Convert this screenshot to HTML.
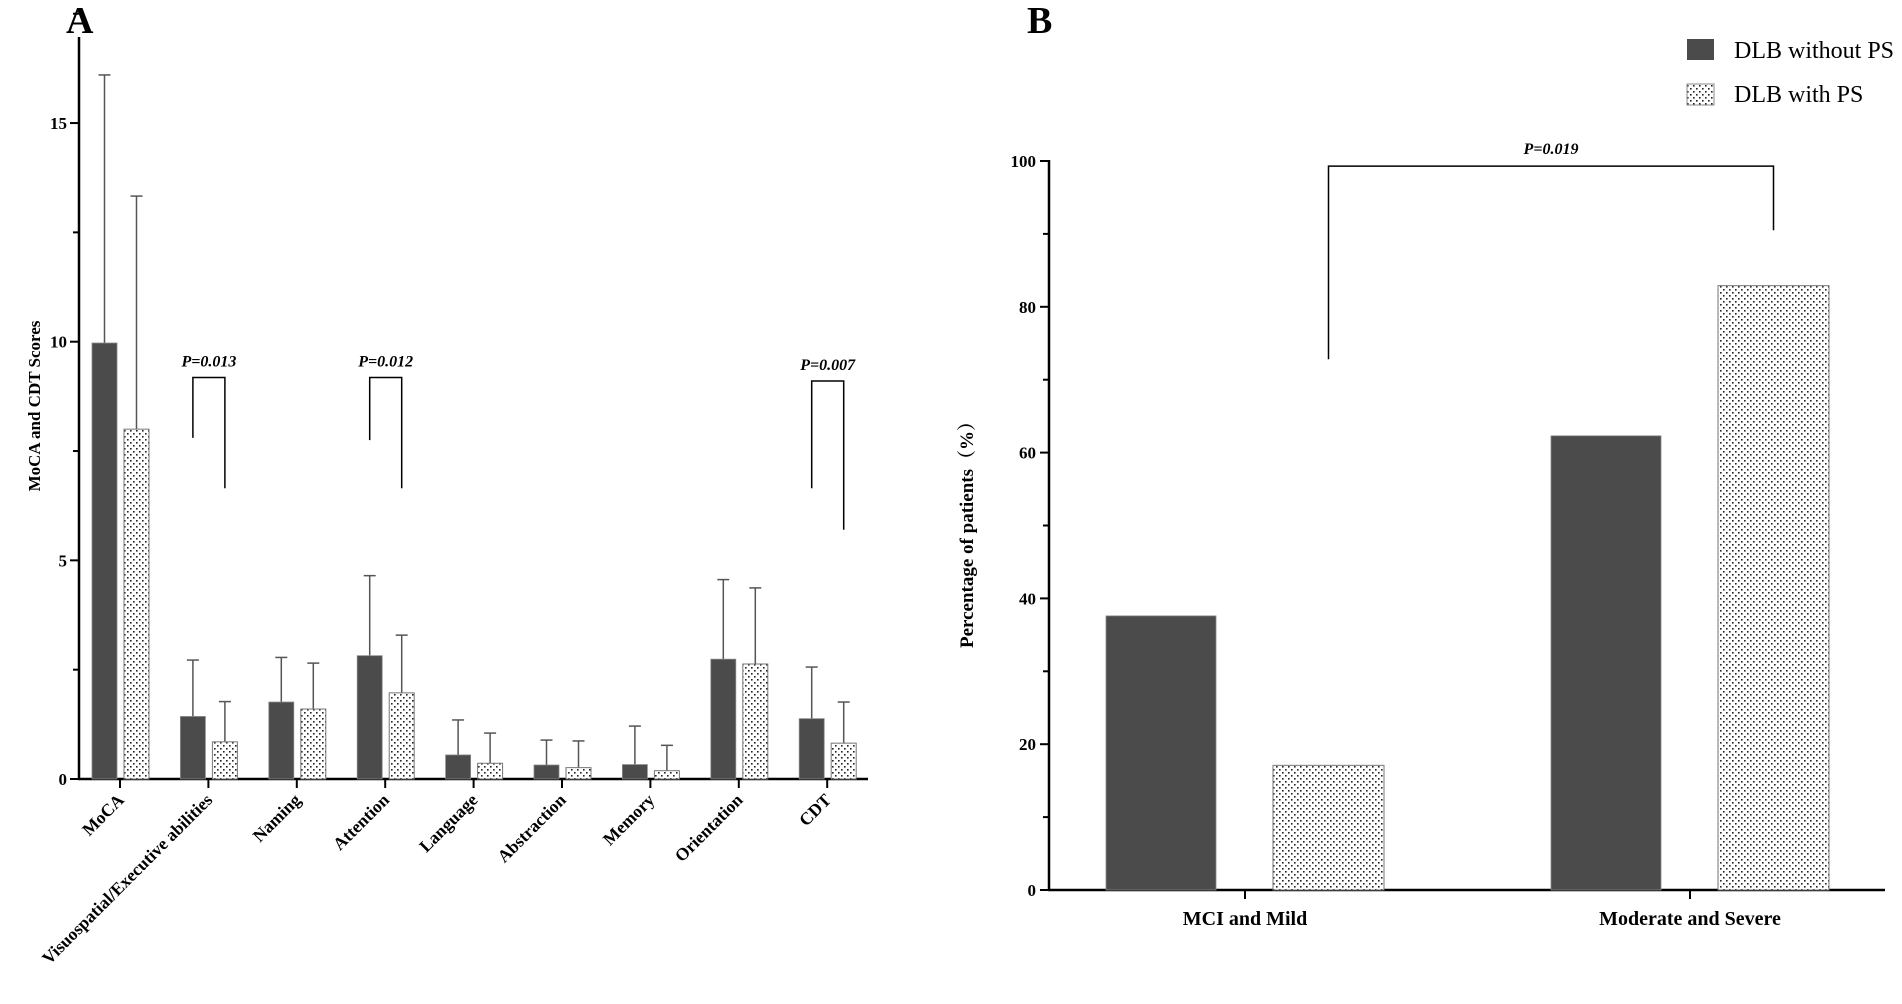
<!DOCTYPE html>
<html><head><meta charset="utf-8">
<style>
html,body{margin:0;padding:0;background:#fff;}
svg{display:block;font-family:"Liberation Serif",serif;}
</style></head>
<body>
<svg id="chart" width="1902" height="1004" viewBox="0 0 1902 1004" xmlns="http://www.w3.org/2000/svg">
<defs>
<pattern id="dots" patternUnits="userSpaceOnUse" width="6" height="6">
<rect width="6" height="6" fill="#fff"/>
<rect x="1" y="1" width="1.6" height="1.6" fill="#222"/>
<rect x="4" y="4" width="1.6" height="1.6" fill="#222"/>
</pattern>
</defs>
<g id="panelA"></g>
<g id="panelB"></g>
</svg>
<script>
// Panel A data
const catsA = ["MoCA","Visuospatial/Executive abilities","Naming","Attention","Language","Abstraction","Memory","Orientation","CDT"];
const withoutA = [9.97,1.43,1.76,2.82,0.55,0.32,0.33,2.74,1.38];
const withoutErrA = [16.1,2.72,2.78,4.65,1.35,0.89,1.21,4.56,2.56];
const withA = [8.0,0.85,1.6,1.97,0.36,0.26,0.19,2.63,0.82];
const withErrA = [13.33,1.77,2.65,3.29,1.05,0.87,0.77,4.37,1.76];
const ticksA = [0,5,10,15];
const sigA = [{cat:1,label:"P=0.013",top:9.18,l:7.8,r:6.65},{cat:3,label:"P=0.012",top:9.18,l:7.75,r:6.65},{cat:8,label:"P=0.007",top:9.1,l:6.65,r:5.7}];
// Panel B data
const catsB = ["MCI and Mild","Moderate and Severe"];
const withoutB = [37.6,62.3];
const withB = [17.1,82.9];
const ticksB = [0,20,40,60,80,100];
const sigB = {label:"P=0.019",top:99.3,l:72.8,r:90.5};

const NS="http://www.w3.org/2000/svg";
function mk(parent,tag,attrs,text){const e=document.createElementNS(NS,tag);for(const k in attrs)e.setAttribute(k,attrs[k]);if(text!==undefined)e.textContent=text;parent.appendChild(e);return e;}

// ---- Panel A ----
const A=document.getElementById('panelA');
const yA=v=>779-v*43.73;
const xA=i=>120+i*88.4;
let t=mk(A,'text',{x:66,y:33,'font-size':38,'font-weight':'bold'},'A');

let ax=mk(A,'line',{x1:79,y1:37,x2:79,y2:780,stroke:'#000','stroke-width':2.5});

for(let v=0;v<=17.5;v+=2.5){const major=ticksA.includes(v);mk(A,'line',{x1:major?70:73,y1:yA(v),x2:79,y2:yA(v),stroke:'#000','stroke-width':2});}
ticksA.forEach(v=>{const e=mk(A,'text',{x:67,y:yA(v)+6,'font-size':17,'font-weight':'bold','text-anchor':'end'},String(v));
});
let xa=mk(A,'line',{x1:78,y1:779,x2:868,y2:779,stroke:'#000','stroke-width':2.5});

let yt=mk(A,'text',{x:0,y:0,'font-size':17,'font-weight':'bold','text-anchor':'middle',transform:'translate(40,406) rotate(-90)'},'MoCA and CDT Scores');

catsA.forEach((c,i)=>{
  const cx=xA(i);
  mk(A,'line',{x1:cx,y1:779,x2:cx,y2:788,stroke:'#000','stroke-width':2});
  const lb=mk(A,'text',{x:0,y:0,'font-size':17.5,'font-weight':'bold','text-anchor':'end',transform:`translate(${cx+5},801) rotate(-45)`},c);
  
  [[cx-15.5,withoutA[i],withoutErrA[i]],[cx+16.5,withA[i],withErrA[i]]].forEach(([ex,v,e])=>{
    const l=mk(A,'line',{x1:ex,y1:yA(v),x2:ex,y2:yA(e),stroke:'#555','stroke-width':1.5});
    
    mk(A,'line',{x1:ex-6,y1:yA(e),x2:ex+6,y2:yA(e),stroke:'#555','stroke-width':1.5});
  });
  const b1=mk(A,'rect',{x:cx-28,y:yA(withoutA[i]),width:25,height:779-yA(withoutA[i]),fill:'#4a4b4a',stroke:'#888','stroke-width':0.8});
  
  const b2=mk(A,'rect',{x:cx+4,y:yA(withA[i]),width:25,height:779-yA(withA[i]),fill:'url(#dots)',stroke:'#777','stroke-width':1});
  
});
sigA.forEach(s=>{
  const cx=xA(s.cat),lx=cx-15.5,rx=cx+16.5;
  const p=mk(A,'path',{d:`M${lx},${yA(s.l)} V${yA(s.top)} H${rx} V${yA(s.r)}`,fill:'none',stroke:'#000','stroke-width':1.5});
  
  const tx=mk(A,'text',{x:cx+0.5,y:yA(s.top)-11,'font-size':16,'font-weight':'bold','font-style':'italic','text-anchor':'middle'},s.label);
  
});

// ---- Panel B ----
const B=document.getElementById('panelB');
const yB=v=>890-v*7.29;
const xB=i=>1245+i*445;
t=mk(B,'text',{x:1027,y:33,'font-size':38,'font-weight':'bold'},'B');

ax=mk(B,'line',{x1:1049,y1:160,x2:1049,y2:891,stroke:'#000','stroke-width':2.5});

for(let v=0;v<=100;v+=10){const major=ticksB.includes(v);mk(B,'line',{x1:major?1040:1043,y1:yB(v),x2:1049,y2:yB(v),stroke:'#000','stroke-width':2});}
ticksB.forEach(v=>{const e=mk(B,'text',{x:1036,y:yB(v)+6,'font-size':17,'font-weight':'bold','text-anchor':'end'},String(v));
});
xa=mk(B,'line',{x1:1048,y1:890,x2:1885,y2:890,stroke:'#000','stroke-width':2.5});

yt=mk(B,'text',{x:0,y:0,'font-size':19,'font-weight':'bold','text-anchor':'middle',transform:'translate(973,530) rotate(-90)'},'Percentage of patients（%）');
yt.setAttribute('font-family','"Liberation Serif","Noto Serif CJK SC",serif');

catsB.forEach((c,i)=>{
  const cx=xB(i);
  mk(B,'line',{x1:cx,y1:890,x2:cx,y2:899,stroke:'#000','stroke-width':2});
  const lb=mk(B,'text',{x:cx,y:925,'font-size':20,'font-weight':'bold','text-anchor':'middle'},c);
  
  const b1=mk(B,'rect',{x:cx-139,y:yB(withoutB[i]),width:110,height:890-yB(withoutB[i]),fill:'#4a4b4a',stroke:'#888','stroke-width':0.8});
  
  const b2=mk(B,'rect',{x:cx+28,y:yB(withB[i]),width:111,height:890-yB(withB[i]),fill:'url(#dots)',stroke:'#777','stroke-width':1});
  
});
{
  const lx=xB(0)+83.5,rx=xB(1)+83.5;
  const p=mk(B,'path',{d:`M${lx},${yB(sigB.l)} V${yB(sigB.top)} H${rx} V${yB(sigB.r)}`,fill:'none',stroke:'#000','stroke-width':1.5});
  
  const tx=mk(B,'text',{x:(lx+rx)/2,y:yB(sigB.top)-12,'font-size':16,'font-weight':'bold','font-style':'italic','text-anchor':'middle'},sigB.label);
  
}
const lg=mk(B,'g',{});

let e1=mk(lg,'rect',{x:1687,y:39,width:27,height:21,fill:'#4a4b4a'});

let e2=mk(lg,'text',{x:1734,y:58,'font-size':24},'DLB without PS');

let e3=mk(lg,'rect',{x:1687,y:84,width:27,height:21,fill:'url(#dots)',stroke:'#888','stroke-width':1});

let e4=mk(lg,'text',{x:1734,y:102,'font-size':24},'DLB with PS');

</script>
</body></html>
